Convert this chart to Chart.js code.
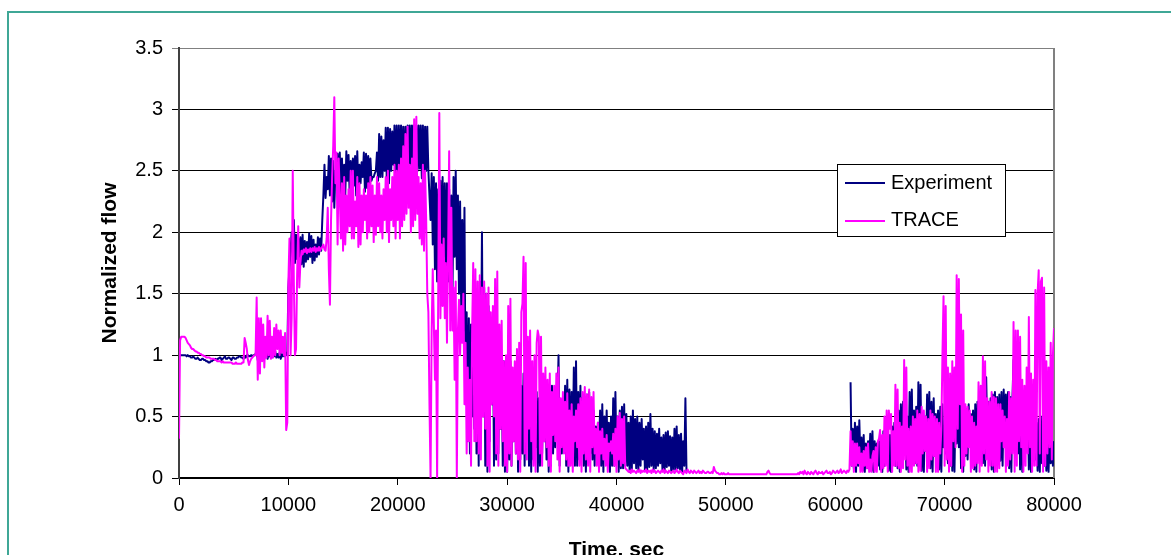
<!DOCTYPE html>
<html><head><meta charset="utf-8">
<script src="https://cdn.jsdelivr.net/npm/chart.js@4"></script>
<style>html,body{margin:0;padding:0;background:#fff;}canvas{display:block;}</style>
</head><body>
<canvas id="c" width="1171" height="555"></canvas>
<script>
const sampleStep = 100;

const expFlow = [
1.00,1.00,1.00,1.00,1.00,1.00,1.00,0.99,1.00,0.99,
0.99,0.98,0.98,0.99,0.98,0.97,0.97,0.98,0.97,0.96,
0.96,0.97,0.97,0.96,0.96,0.95,0.95,0.94,0.94,0.95,
0.95,0.96,0.96,0.97,0.96,0.97,0.97,0.98,0.98,0.96,
0.97,0.98,0.99,0.97,0.97,0.98,0.98,0.97,0.96,0.98,
0.98,0.97,0.97,0.98,0.98,0.99,0.99,0.98,0.98,0.97,
0.99,0.98,1.00,1.00,0.99,0.99,1.00,0.99,1.00,1.00,
1.01,1.04,0.96,1.05,0.95,1.10,0.98,1.03,0.97,1.02,
1.04,0.97,1.02,0.99,1.05,0.98,1.03,0.99,1.03,0.98,
1.01,0.98,1.02,0.97,1.01,0.99,1.01,0.99,1.02,1.00,
1.55,1.70,1.85,2.00,1.80,2.10,1.75,1.98,1.78,1.95,
1.80,1.96,1.74,1.98,1.72,1.93,1.76,1.92,1.78,1.99,
1.80,1.97,1.75,1.94,1.77,1.90,1.80,1.96,1.82,1.95,
1.85,2.10,2.30,2.55,2.28,2.45,2.35,2.62,2.30,2.60,
2.25,2.58,2.20,2.50,2.40,2.64,2.35,2.65,2.30,2.60,
2.28,2.55,2.30,2.66,2.42,2.63,2.33,2.58,2.35,2.60,
2.38,2.62,2.30,2.66,2.32,2.55,2.40,2.57,2.45,2.65,
2.33,2.64,2.36,2.62,2.40,2.60,2.42,2.45,2.45,2.48,
2.50,2.65,2.42,2.80,2.45,2.78,2.45,2.75,2.50,2.85,
2.40,2.85,2.40,2.84,2.50,2.82,2.55,2.87,2.45,2.87,
2.45,2.87,2.48,2.87,2.50,2.86,2.42,2.86,2.42,2.87,
2.52,2.87,2.55,2.87,2.46,2.87,2.48,2.87,2.50,2.87,
2.52,2.87,2.44,2.87,2.45,2.86,2.50,2.86,2.50,2.30,
2.10,2.48,1.90,2.45,1.70,2.40,1.60,2.35,1.55,2.42,
1.75,2.45,1.80,2.40,1.65,2.40,1.60,2.35,1.50,2.30,
1.45,2.45,1.80,2.50,1.70,2.30,1.50,2.25,1.40,2.10,
1.20,2.20,0.60,1.35,0.30,1.30,0.20,1.25,0.50,1.10,
0.40,1.40,0.20,1.45,0.10,1.60,0.80,2.00,0.50,1.55,
0.10,1.50,0.05,1.40,0.30,1.30,0.60,1.25,0.10,1.20,
0.15,1.15,0.20,1.10,0.40,1.00,0.10,0.95,0.05,0.92,
0.05,0.90,0.15,0.95,0.10,0.85,0.30,0.90,0.20,0.95,
0.05,0.80,0.15,0.75,0.20,0.85,0.10,0.90,0.35,0.75,
0.10,0.70,0.05,0.80,0.15,0.85,0.25,0.70,0.05,0.65,
0.10,0.75,0.20,0.80,0.30,0.70,0.15,0.60,0.05,0.65,
0.10,0.75,0.20,0.65,0.25,0.70,0.60,1.00,0.10,0.50,
0.20,0.65,0.30,0.75,0.10,0.80,0.05,0.72,0.15,0.70,
0.25,0.90,0.10,0.95,0.10,0.70,0.15,0.75,0.30,0.65,
0.10,0.60,0.05,0.68,0.20,0.70,0.20,0.50,0.15,0.55,
0.10,0.42,0.20,0.45,0.25,0.55,0.10,0.60,0.05,0.50,
0.15,0.55,0.20,0.45,0.05,0.50,0.10,0.65,0.10,0.70,
0.15,0.50,0.05,0.55,0.08,0.58,0.08,0.60,0.10,0.52,
0.10,0.45,0.05,0.50,0.07,0.55,0.12,0.48,0.08,0.50,
0.06,0.45,0.10,0.48,0.15,0.40,0.06,0.42,0.05,0.45,
0.09,0.52,0.10,0.40,0.07,0.38,0.08,0.36,0.10,0.40,
0.12,0.33,0.07,0.35,0.05,0.37,0.09,0.38,0.10,0.34,
0.06,0.33,0.06,0.40,0.07,0.42,0.08,0.35,0.06,0.36,
0.05,0.30,0.10,0.65,0.05,null,null,null,null,null,
null,null,null,null,null,null,null,null,null,null,
null,null,null,null,null,null,null,null,null,null,
null,null,null,null,null,null,null,null,null,null,
null,null,null,null,null,null,null,null,null,null,
null,null,null,null,null,null,null,null,null,null,
null,null,null,null,null,null,null,null,null,null,
null,null,null,null,null,null,null,null,null,null,
null,null,null,null,null,null,null,null,null,null,
null,null,null,null,null,null,null,null,null,null,
null,null,null,null,null,null,null,null,null,null,
null,null,null,null,null,null,null,null,null,null,
null,null,null,null,null,null,null,null,null,null,
null,null,null,null,null,null,null,null,null,null,
null,null,null,null,null,null,null,null,null,null,
null,null,null,null,0.78,0.10,0.40,0.08,0.45,0.05,
0.42,0.10,0.47,0.15,0.33,0.06,0.35,0.05,0.28,0.08,
0.30,0.12,0.36,0.06,0.38,0.05,0.30,0.12,0.28,0.10,
0.30,0.07,0.32,0.05,0.38,0.10,0.40,0.15,0.33,0.06,
0.35,0.05,0.42,0.12,0.45,0.10,0.50,0.08,0.55,0.05,
0.60,0.15,0.62,0.20,0.48,0.07,0.50,0.05,0.70,0.12,
0.72,0.15,0.55,0.12,0.58,0.10,0.78,0.12,0.76,0.06,
0.48,0.05,0.50,0.22,0.68,0.20,0.70,0.08,0.62,0.05,
0.65,0.18,0.52,0.15,0.55,0.07,0.58,0.05,0.60,0.25,
0.42,0.20,0.45,0.12,0.52,0.10,0.55,0.06,0.60,0.05,
0.62,0.28,0.64,0.25,0.66,0.08,0.55,0.05,0.58,0.18,
0.56,0.15,0.60,0.32,0.52,0.30,0.55,0.07,0.60,0.05,
0.62,0.24,0.55,0.20,0.58,0.12,0.80,0.10,0.82,0.35,
0.62,0.30,0.65,0.07,0.68,0.05,0.70,0.28,0.66,0.25,
0.68,0.14,0.70,0.10,0.72,0.38,0.68,0.35,0.70,0.08,
0.66,0.05,0.65,0.96,0.99,0.22,0.70,0.20,0.72,0.07,
0.66,0.05,0.68,0.33,0.68,0.30,0.70,0.07,0.52,0.05,
0.55,0.18,0.42,0.15,0.45,0.06,0.48,0.05,0.50,0.12,
0.38,0.10,0.40,0.06,0.33,0.05,0.35,0.12,0.28,0.10,
0.30
];

const traceFlow = [
0.32,1.12,1.15,1.15,1.15,1.15,1.14,1.12,1.10,1.09,
1.08,1.06,1.05,1.05,1.04,1.03,1.03,1.02,1.02,1.01,
1.01,1.00,1.00,0.99,0.99,0.98,0.98,0.98,0.98,0.97,
0.97,0.97,0.97,0.96,0.96,0.95,0.95,0.95,0.95,0.94,
0.95,0.94,0.94,0.94,0.94,0.94,0.94,0.94,0.94,0.93,
0.93,0.93,0.94,0.93,0.93,0.93,0.93,0.93,0.94,0.94,
1.14,1.10,1.05,0.96,0.92,0.95,0.97,0.98,0.99,1.00,
1.00,1.47,0.80,1.30,0.85,1.30,0.95,1.25,0.90,1.15,
0.98,1.32,1.00,1.28,0.97,1.15,0.98,1.22,1.00,1.25,
1.05,1.20,1.00,1.20,1.02,1.15,1.00,1.18,0.39,0.45,
1.60,1.95,1.00,1.30,2.50,1.60,1.00,1.05,1.65,2.05,
1.55,1.75,1.85,1.82,1.86,1.84,1.87,1.83,1.86,1.84,
1.87,1.84,1.87,1.85,1.88,1.84,1.87,1.85,1.88,1.85,
1.87,1.88,1.90,1.86,1.85,1.95,2.20,1.70,1.41,2.10,
2.45,2.70,3.10,2.40,2.65,1.90,2.60,2.30,1.95,2.40,
1.85,2.45,1.90,2.30,2.00,2.35,2.05,2.50,1.95,2.50,
1.95,2.25,2.05,2.45,1.88,2.40,1.90,2.30,2.00,2.35,
2.10,2.30,1.95,2.40,2.00,2.45,2.05,2.38,1.92,2.30,
1.98,2.45,2.05,2.40,2.00,2.30,1.95,2.35,2.10,2.45,
2.00,2.50,1.92,2.35,2.10,2.45,2.05,2.55,1.95,2.50,
2.10,2.55,1.95,2.60,2.05,2.70,2.10,2.80,2.15,2.86,
2.20,2.55,2.00,2.60,2.05,2.92,2.10,2.94,2.15,2.45,
1.95,2.40,1.90,2.55,1.85,2.50,2.10,1.50,1.35,0.60,
0.00,1.20,1.70,1.25,0.80,1.20,0.00,1.50,2.97,1.30,
1.90,1.40,1.95,1.30,1.75,1.10,1.80,2.66,1.20,2.20,
1.20,1.55,0.80,1.60,0.00,1.20,1.45,1.00,1.40,1.10,
1.50,0.60,1.10,0.20,0.90,0.30,0.80,0.10,1.20,1.75,
0.30,1.70,0.30,1.60,0.20,1.65,0.15,1.55,0.50,1.60,
0.40,1.50,0.10,1.55,0.05,1.35,0.60,1.40,0.50,1.62,
0.20,1.68,0.10,1.25,0.40,1.28,0.30,0.95,0.10,1.00,
0.05,1.40,0.20,1.46,0.10,0.90,0.30,0.95,0.20,1.05,
0.15,1.10,0.05,1.35,1.42,1.80,0.20,1.75,0.15,1.15,
0.40,1.20,0.30,0.95,0.10,1.00,0.05,1.10,1.20,1.15,
0.20,1.15,0.10,0.85,0.30,0.90,0.25,0.80,0.10,0.85,
0.05,0.70,0.35,0.75,0.30,0.85,0.15,0.90,0.05,0.65,
0.25,0.70,0.20,0.62,0.15,0.69,0.10,0.55,0.10,0.60,
0.05,0.50,0.30,0.55,0.25,0.60,0.10,0.65,0.05,0.70,
0.20,0.74,0.15,0.68,0.10,0.72,0.05,0.66,0.25,0.70,
0.20,0.40,0.10,0.45,0.05,0.38,0.20,0.40,0.15,0.32,
0.10,0.35,0.05,0.28,0.22,0.30,0.20,0.36,0.10,0.40,
0.05,0.50,0.15,0.53,0.10,0.48,0.12,0.50,0.08,0.07,
0.06,0.05,0.06,0.04,0.07,0.05,0.06,0.05,0.04,0.06,
0.05,0.07,0.04,0.06,0.05,0.06,0.05,0.07,0.04,0.06,
0.05,0.06,0.04,0.07,0.05,0.06,0.04,0.05,0.06,0.05,
0.04,0.06,0.05,0.07,0.04,0.06,0.05,0.04,0.06,0.05,
0.04,0.05,0.06,0.04,0.05,0.07,0.05,0.04,0.06,0.05,
0.04,0.03,0.06,0.05,0.04,0.07,0.05,0.04,0.06,0.05,
0.04,0.06,0.05,0.04,0.05,0.06,0.04,0.05,0.04,0.06,
0.05,0.04,0.04,0.05,0.05,0.04,0.04,0.05,0.04,0.09,
0.06,0.05,0.04,0.04,0.03,0.03,0.04,0.03,0.04,0.03,
0.03,0.03,0.04,0.03,0.03,0.03,0.03,0.03,0.03,0.03,
0.03,0.03,0.03,0.03,0.03,0.03,0.03,0.03,0.03,0.03,
0.03,0.03,0.03,0.03,0.03,0.03,0.03,0.03,0.03,0.03,
0.03,0.03,0.03,0.03,0.03,0.03,0.03,0.03,0.05,0.06,
0.04,0.03,0.03,0.03,0.03,0.03,0.03,0.03,0.03,0.03,
0.03,0.03,0.03,0.03,0.03,0.03,0.03,0.03,0.03,0.03,
0.03,0.03,0.03,0.03,0.03,0.03,0.04,0.03,0.05,0.04,
0.05,0.03,0.06,0.04,0.03,0.05,0.04,0.03,0.05,0.04,
0.03,0.05,0.06,0.04,0.03,0.05,0.04,0.04,0.05,0.03,
0.04,0.05,0.06,0.04,0.04,0.05,0.03,0.04,0.06,0.05,
0.04,0.05,0.06,0.04,0.05,0.07,0.04,0.05,0.06,0.05,
0.04,0.06,0.05,0.07,0.38,0.10,0.30,0.05,0.28,0.10,
0.28,0.12,0.25,0.05,0.20,0.05,0.22,0.10,0.25,0.08,
0.28,0.05,0.15,0.05,0.18,0.22,0.05,0.25,0.05,0.30,
0.32,0.39,0.05,0.35,0.08,0.50,0.10,0.55,0.05,0.55,
0.40,0.52,0.05,0.38,0.10,0.76,0.10,0.72,0.08,0.45,
0.05,0.42,0.08,0.96,0.15,0.90,0.10,0.40,0.05,0.42,
0.05,0.50,0.10,0.48,0.12,0.55,0.05,0.52,0.06,0.58,
0.20,0.55,0.22,0.50,0.05,0.48,0.08,0.55,0.15,0.52,
0.18,0.50,0.05,0.48,0.05,0.45,0.20,0.40,1.00,1.48,
0.10,1.40,0.15,0.90,0.05,0.85,0.10,0.95,0.30,0.90,
0.25,1.65,0.40,1.62,0.60,1.33,0.05,1.20,0.10,0.60,
0.20,0.58,0.25,0.55,0.05,0.50,0.08,0.45,0.10,0.42,
0.12,0.78,0.05,0.75,0.10,0.99,0.20,0.95,0.15,0.65,
0.05,0.62,0.10,0.70,0.10,0.66,0.05,0.65,0.05,0.60,
0.08,0.60,0.30,0.55,0.25,0.50,0.05,0.48,0.10,0.70,
0.15,0.65,0.20,1.27,0.05,1.20,0.10,1.20,0.30,1.15,
0.25,0.80,0.05,0.75,0.10,0.90,0.20,1.31,0.25,0.85,
0.05,0.80,0.10,1.53,0.10,1.50,1.69,0.20,1.60,1.63,
0.05,1.55,0.10,0.95,0.20,0.90,0.25,1.10,0.15,1.00,
1.22
];

const times = traceFlow.map((_, i) => i * sampleStep);
const xTicks = [0, 10000, 20000, 30000, 40000, 50000, 60000, 70000, 80000];
const yTicks = [0, 0.5, 1, 1.5, 2, 2.5, 3, 3.5];
const seriesNames = ['Experiment', 'TRACE'];
const seriesColors = ['#000080', '#FF00FF'];

const FONT = "'Liberation Sans', Arial, Helvetica, sans-serif";

const framePlugin = {
  id: 'frame',
  beforeDraw(chart) {
    const ctx = chart.ctx;
    ctx.save();
    ctx.fillStyle = '#ffffff';
    ctx.fillRect(0, 0, chart.width, chart.height);
    ctx.strokeStyle = '#3fa796';
    ctx.lineWidth = 2;
    ctx.strokeRect(8, 12, chart.width + 40, chart.height + 40);
    ctx.restore();
  },
  beforeDatasetsDraw(chart) {
    const {ctx, chartArea: a} = chart;
    ctx.save();
    ctx.strokeStyle = '#808080';
    ctx.lineWidth = 2;
    ctx.beginPath();
    ctx.moveTo(Math.round(a.right), a.top);
    ctx.lineTo(Math.round(a.right), a.bottom);
    ctx.stroke();
    ctx.restore();
  }
};

const legendPlugin = {
  id: 'boxLegend',
  afterDraw(chart) {
    const {ctx, chartArea: a} = chart;
    const w = a.right - a.left, h = a.bottom - a.top;
    const x = Math.round(a.left + w * 0.7517), y = Math.round(a.top + h * 0.27);
    const bw = 168, bh = 72;
    ctx.save();
    ctx.fillStyle = '#ffffff';
    ctx.fillRect(x, y, bw, bh);
    ctx.strokeStyle = '#000000';
    ctx.lineWidth = 1;
    ctx.strokeRect(x + 0.5, y + 0.5, bw, bh);
    ctx.font = '20px ' + FONT;
    ctx.textBaseline = 'alphabetic';
    chart.data.datasets.forEach((ds, i) => {
      const ly = Math.round(y + 19 + i * 37.5);
      ctx.strokeStyle = ds.borderColor;
      ctx.lineWidth = 2;
      ctx.beginPath();
      ctx.moveTo(x + 8, ly);
      ctx.lineTo(x + 48, ly);
      ctx.stroke();
      ctx.fillStyle = '#000000';
      ctx.fillText(ds.label, x + 54, y + 25 + i * 37);
    });
    ctx.restore();
  }
};

new Chart(document.getElementById('c'), {
  type: 'line',
  data: {
    labels: times,
    datasets: [
      { label: seriesNames[0], data: expFlow, borderColor: seriesColors[0], backgroundColor: seriesColors[0],
        borderWidth: 2, pointRadius: 0, tension: 0, spanGaps: false, fill: false, order: 1, borderJoinStyle: 'round' },
      { label: seriesNames[1], data: traceFlow, borderColor: seriesColors[1], backgroundColor: seriesColors[1],
        borderWidth: 2, pointRadius: 0, tension: 0, spanGaps: false, fill: false, order: 0, borderJoinStyle: 'round' }
    ]
  },
  options: {
    responsive: false,
    animation: false,
    devicePixelRatio: 1,
    layout: { padding: { top: 48, right: 117, bottom: 0, left: 0 } },
    plugins: { legend: { display: false }, tooltip: { enabled: false } },
    scales: {
      x: {
        type: 'linear', min: 0, max: 80000,
        afterFit(s) { s.height = 77; },
        afterBuildTicks(s) { s.ticks = xTicks.map(v => ({ value: v })); },
        ticks: { color: '#000', font: { family: FONT, size: 20 }, padding: 8, maxRotation: 0, autoSkip: false,
          callback: v => String(v) },
        grid: { drawOnChartArea: false, drawTicks: true, tickLength: 7, color: '#000', lineWidth: 1 },
        border: { display: true, color: '#000', width: 2 },
        title: { display: true, text: 'Time, sec', color: '#000',
          font: { family: FONT, size: 21, weight: 'bold' }, padding: { top: 0, bottom: -8 } }
      },
      y: {
        min: 0, max: 3.5,
        afterFit(s) { s.width = 179; },
        afterBuildTicks(s) { s.ticks = yTicks.map(v => ({ value: v })); },
        ticks: { color: '#000', font: { family: FONT, size: 20 }, padding: 9, callback: v => String(v) },
        grid: { color: c => (c.tick && c.tick.value === 3.5) ? '#808080' : '#000000', tickLength: 7, lineWidth: 1 },
        border: { display: true, color: '#404040', width: 2 },
        title: { display: true, text: 'Normalized flow', color: '#000',
          font: { family: FONT, size: 21, weight: 'bold' }, padding: { top: 98, bottom: 0 } }
      }
    }
  },
  plugins: [framePlugin, legendPlugin]
});
</script>
</body></html>
